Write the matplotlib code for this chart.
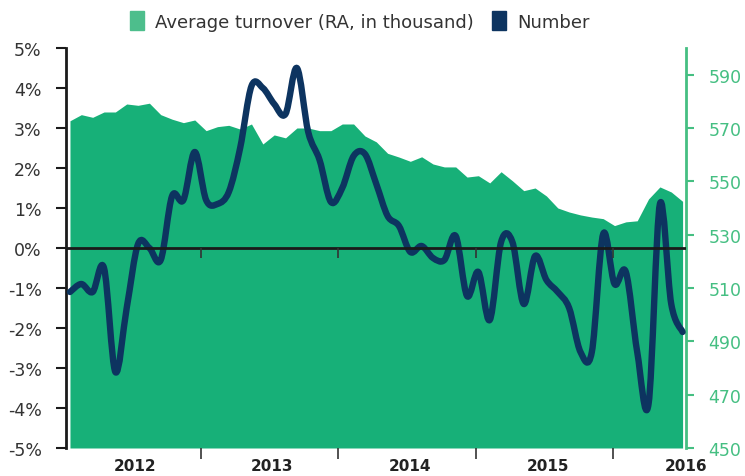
import matplotlib
matplotlib.use("Agg")
import matplotlib.pyplot as plt
from matplotlib.patches import Patch
from matplotlib.path import Path
from matplotlib.patches import PathPatch
import numpy as np

# Monthly data, Jan 2012 - Jul 2016
number_pct = [-1.1, -0.9, -1.1, -0.5, -3.1, -1.5, 0.1, 0.0, -0.3, 1.3,
              1.2, 2.4, 1.2, 1.1, 1.4, 2.5, 4.05, 4.0, 3.6, 3.35,
              4.5, 2.9, 2.2, 1.15, 1.5, 2.3, 2.35, 1.6, 0.8, 0.55,
              -0.1, 0.05, -0.25, -0.3, 0.3, -1.2, -0.6, -1.8, 0.15, 0.15,
              -1.4, -0.2, -0.8, -1.1, -1.5, -2.6, -2.6, 0.35, -0.9, -0.6,
              -2.6, -3.9, 1.1, -1.4, -2.1]
turnover = [572.7, 575, 574, 576, 576, 579, 578.5, 579.3, 575, 573.3,
            572, 573, 569, 570.5, 571, 569.6, 571.5, 564, 567.4, 566.3,
            570, 570, 569, 569, 571.5, 571.5, 567, 564.8, 560.5, 559.1,
            557.5, 559.2, 556.5, 555.4, 555.4, 551.6, 552.1, 549.4, 553.6, 550.2,
            546.5, 547.5, 544.5, 540, 538.5, 537.4, 536.6, 536, 533.4, 534.8,
            535.2, 543.4, 547.9, 546, 542.5]
year_labels = ["2012", "2013", "2014", "2015", "2016"]
left_ticks = [-5, -4, -3, -2, -1, 0, 1, 2, 3, 4, 5]
right_ticks = [450, 470, 490, 510, 530, 550, 570, 590]

GREEN = "#17B078"
LEG_GREEN = "#4DBE8C"
AX_GREEN = "#45BF82"
NAVY = "#0D3460"

x = np.arange(len(number_pct))
year_label_pos = [5.7, 17.8, 30.0, 42.1, 54.3]
year_bounds = [11.58, 23.66, 35.8, 47.9]

fig = plt.figure(figsize=(7.45, 4.77), dpi=100)
ax = fig.add_axes([0.0886, 0.0587, 0.8322, 0.8386])
ax2 = ax.twinx()

# area on right axis
ax2.fill_between(x, 450, turnover, color=GREEN, lw=0, zorder=1)
ax2.set_ylim(450, 600)
ax2.set_yticks(right_ticks)
ax2.tick_params(axis='y', colors=AX_GREEN, length=6, width=1.5, labelsize=12.5, pad=10)
for lab in ax2.get_yticklabels():
    lab.set_color(AX_GREEN)
for s in ["top", "left", "bottom"]:
    ax2.spines[s].set_visible(False)
ax2.spines["right"].set_color(AX_GREEN)
ax2.spines["right"].set_linewidth(2)

ax.set_zorder(ax2.get_zorder() + 1)
ax.patch.set_visible(False)

# smooth line via Catmull-Rom bezier path
pts = np.column_stack([x, number_pct]).astype(float)
n = len(pts)
verts = [pts[0]]
codes = [Path.MOVETO]
for i in range(n - 1):
    p0 = pts[max(i - 1, 0)]
    p1 = pts[i]
    p2 = pts[i + 1]
    p3 = pts[min(i + 2, n - 1)]
    c1 = p1 + (p2 - p0) / 6.0
    c2 = p2 - (p3 - p1) / 6.0
    verts += [c1, c2, p2]
    codes += [Path.CURVE4] * 3
path = Path(verts, codes)
ax.add_patch(PathPatch(path, facecolor="none", edgecolor=NAVY, lw=4.6,
                       capstyle="round", joinstyle="round", zorder=3))

ax.axhline(0, color="#1a1a1a", lw=2, zorder=4)
ax.vlines(year_bounds, -0.25, 0, color="#333333", lw=1.2, zorder=4)

ax.set_xlim(-0.35, 54.18)
ax.set_ylim(-5, 5)
ax.set_yticks(left_ticks)
ax.set_yticklabels([f"{v}%" for v in left_ticks])
ax.tick_params(axis='y', colors="#1a1a1a", length=7.5, width=1.5, labelsize=12.5, pad=10)
for lab in ax.get_yticklabels():
    lab.set_color("#333333")
for s in ["top", "right", "bottom"]:
    ax.spines[s].set_visible(False)
ax.spines["left"].set_linewidth(2)
ax.spines["left"].set_color("#1a1a1a")

ax.set_xticks(year_bounds)
ax.set_xticklabels([])
ax.tick_params(axis='x', which='major', length=8, width=1.2, color="#333333")
ax.set_xticks(year_label_pos, minor=True)
ax.set_xticklabels(year_labels, minor=True, fontsize=11, fontweight="bold", color="#222222")
ax.tick_params(axis='x', which='minor', length=0, pad=7)

handles = [Patch(color=LEG_GREEN, label="Average turnover (RA, in thousand)"),
           Patch(color=NAVY, label="Number")]
leg = fig.legend(handles=handles, loc="center", bbox_to_anchor=(0.483, 0.954), ncol=2,
                 frameon=False, fontsize=13, handlelength=0.8, handleheight=1.2,
                 handletextpad=0.6, columnspacing=1.0)
for t in leg.get_texts():
    t.set_color("#333333")

fig.savefig("out.png", dpi=100)
